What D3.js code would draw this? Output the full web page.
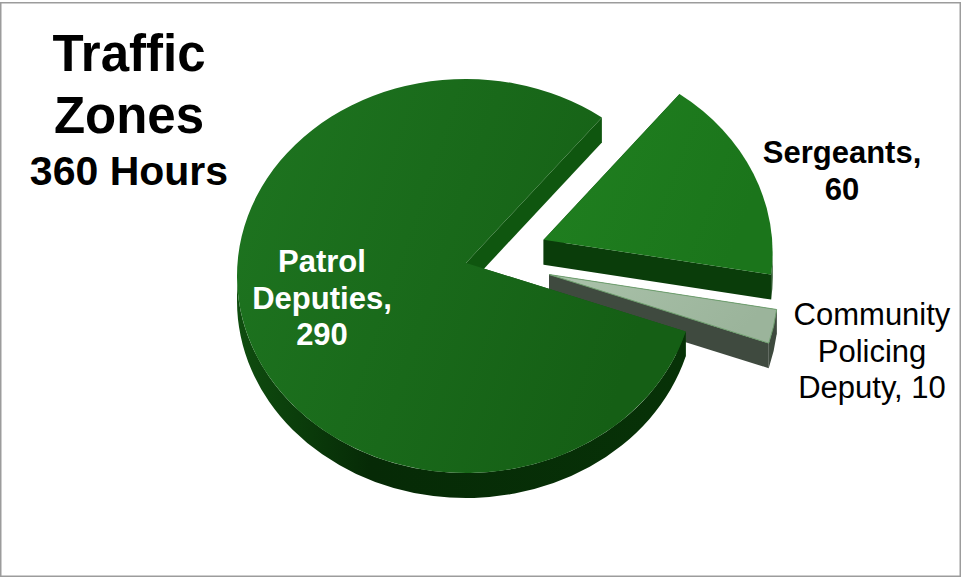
<!DOCTYPE html>
<html>
<head>
<meta charset="utf-8">
<script src="https://cdn.jsdelivr.net/npm/d3@7"></script>
<style>
  body { margin: 0; background: #fff; }
  svg { display: block; }
</style>
</head>
<body>
<div id="chart"></div>
<script>
// Global Variables :
var width = 962,
    height = 578;

// data
var categories = ["Patrol Deputies", "Sergeants", "Community Policing Deputy"];
var hours = [290, 60, 10];
var labelLines = [["Patrol", "Deputies,", "290"],
                  ["Sergeants,", "60"],
                  ["Community", "Policing", "Deputy, 10"]];
var titleLines = ["Traffic", "Zones", "360 Hours"];

// look of each slice
var topColors  = [["#1e7520", "#155f15"], ["#208020", "#1b751b"], ["#aac2aa", "#9bb49b"]];
var cutColors  = ["#0f560f", "#0a3d0a", "#3f4a3f"];
var explode    = [0, 0.37, 0.37];
var labelStyle = [{fill: "#fff", weight: "bold"}, {fill: "#000", weight: "bold"}, {fill: "#000", weight: "normal"}];
var labelAnchor = [[322, 272], [842, 163], [872, 325]];
var drawOrder = [1, 2, 0];

// pie geometry (tilted ellipse)
var cx = 466, cy = 276, rx = 229, ry = 197,
    depth = 25, apexLift = 13, tilt = 0.8,
    startDeg = 106.4;

var svg = d3.select("#chart").append("svg")
  .attr("width", width)
  .attr("height", height);

var defs = svg.append("defs");

topColors.forEach(function(c, i) {
  var g = defs.append("linearGradient").attr("id", "top" + i)
    .attr("x1", 0).attr("y1", 0).attr("x2", 1).attr("y2", 0.3);
  g.append("stop").attr("offset", "0%").attr("stop-color", c[0]);
  g.append("stop").attr("offset", "100%").attr("stop-color", c[1]);
});

var sideGrad = defs.append("linearGradient").attr("id", "side0")
  .attr("x1", 0).attr("y1", 0).attr("x2", 1).attr("y2", 0);
sideGrad.append("stop").attr("offset", "0%").attr("stop-color", "#0f4d0f");
sideGrad.append("stop").attr("offset", "30%").attr("stop-color", "#062a06");
sideGrad.append("stop").attr("offset", "100%").attr("stop-color", "#073207");
var sideColors = ["url(#side0)", "#0a3c0a", "#3e4a3e"];

// frame
svg.append("rect")
  .attr("x", 0.75).attr("y", 2.75)
  .attr("width", 959.5).attr("height", 573.5)
  .attr("fill", "none")
  .attr("stroke", "#9c9c9c")
  .attr("stroke-width", 1.5);

var pie = d3.pie()
  .sort(null)
  .value(function(d) { return d; })
  .startAngle(startDeg * Math.PI / 180)
  .endAngle(startDeg * Math.PI / 180 + 2 * Math.PI);

var arcs = pie(hours);

function offsetOf(i) {
  var d = arcs[i], mid = (d.startAngle + d.endAngle) / 2;
  return [explode[i] * rx * Math.sin(mid), -explode[i] * ry * tilt * Math.cos(mid)];
}
function rim(a, off, dz) {
  return [cx + off[0] + rx * Math.sin(a), cy + off[1] - ry * Math.cos(a) + (dz || 0)];
}
function apex(off, dz) {
  return [cx + off[0], cy - apexLift + off[1] + (dz || 0)];
}
function arcTo(p, large, sweep) {
  return "A" + rx + "," + ry + " 0 " + large + " " + sweep + " " + p[0] + "," + p[1];
}

var gPie = svg.append("g");

drawOrder.forEach(function(i) {
  var d = arcs[i], off = offsetOf(i);
  var a0 = d.startAngle, a1 = d.endAngle;
  var g = gPie.append("g").attr("class", "slice").attr("data-name", categories[i]);

  // cut faces
  [a0, a1].forEach(function(a) {
    var p = [apex(off), rim(a, off), rim(a, off, depth), apex(off, depth)];
    g.append("path")
      .attr("d", "M" + p.join("L") + "Z")
      .attr("fill", cutColors[i]);
  });

  // outer side, front half only
  [0, 1].forEach(function(k) {
    var lo = Math.max(a0, Math.PI / 2 + 2 * Math.PI * k),
        hi = Math.min(a1, 3 * Math.PI / 2 + 2 * Math.PI * k);
    if (hi <= lo) return;
    var p0 = rim(lo, off), p1 = rim(hi, off),
        q1 = rim(hi, off, depth), q0 = rim(lo, off, depth);
    g.append("path")
      .attr("d", "M" + p0 + arcTo(p1, 0, 1) + "L" + q1 + arcTo(q0, 0, 0) + "Z")
      .attr("fill", sideColors[i]);
  });

  // top face
  var s = rim(a0, off), e = rim(a1, off);
  g.append("path")
    .attr("d", "M" + apex(off) + "L" + s + arcTo(e, (a1 - a0) > Math.PI ? 1 : 0, 1) + "Z")
    .attr("fill", "url(#top" + i + ")")
    .attr("stroke", i == 2 ? "#6fa06f" : "none")
    .attr("stroke-width", 1);
});

// labels
var font = "'Liberation Sans', Arial, Helvetica, sans-serif";

labelLines.forEach(function(lines, i) {
  svg.append("text")
    .attr("x", labelAnchor[i][0])
    .attr("y", labelAnchor[i][1])
    .attr("text-anchor", "middle")
    .style("font-family", font)
    .style("font-size", "31px")
    .style("font-weight", labelStyle[i].weight)
    .attr("fill", labelStyle[i].fill)
    .selectAll("tspan")
    .data(lines).enter()
    .append("tspan")
    .attr("x", labelAnchor[i][0])
    .attr("dy", function(t, j) { return j == 0 ? 0 : 36.5; })
    .text(function(t) { return t; });
});

// title
var titleY = [71, 133, 185],
    titleSize = [51, 51, 41];
svg.selectAll("text.title")
  .data(titleLines).enter()
  .append("text")
  .attr("class", "title")
  .attr("x", 129)
  .attr("y", function(t, j) { return titleY[j]; })
  .attr("text-anchor", "middle")
  .style("font-family", font)
  .style("font-weight", "bold")
  .style("font-size", function(t, j) { return titleSize[j] + "px"; })
  .text(function(t) { return t; });
</script>
</body>
</html>
